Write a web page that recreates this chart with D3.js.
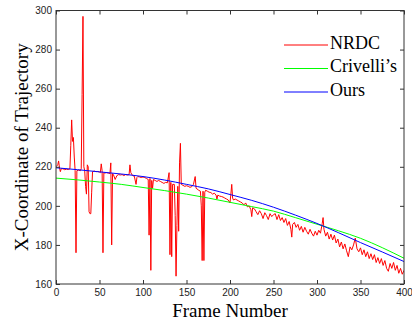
<!DOCTYPE html>
<html>
<head>
<meta charset="utf-8">
<script src="https://cdn.jsdelivr.net/npm/d3@7"></script>
<style>
  body { margin: 0; background: #fff; }
</style>
</head>
<body>
<div id="chart"></div>
<script>
// Reference curves at every 25 frames.
const smoothFrames = [0, 25, 50, 75, 100, 125, 150, 175, 200, 225, 250, 275, 300, 325, 350, 375, 400];
const crivelli = [214.2, 213.3, 212.2, 211.0, 209.4, 207.8, 206.0, 204.0, 201.8, 199.6, 197.3, 194.0, 190.6, 187.2, 183.4, 178.6, 173.2];
const ours = [219.5, 218.5, 217.4, 216.3, 215.0, 213.2, 211.0, 208.7, 205.8, 202.8, 199.3, 195.3, 191.0, 186.2, 181.2, 176.4, 171.5];

// NRDC track, noisy as [frame, value].
const nrdc = [
  [0, 220], [2, 221], [3, 223], [4, 219.5], [5, 217.5], [6, 219], [8, 219], [10, 218.5], [12, 218.8], [14, 218.6],
  [16, 219], [17, 231], [18, 244], [19, 233], [20, 235], [21, 225], [22, 218], [23, 176], [24, 218], [26, 218.3],
  [28, 218], [29, 219], [30, 257], [31, 297], [32, 220], [33, 218], [34, 210], [35, 206], [36, 221], [37, 220],
  [38, 197], [39, 196], [40, 196], [41, 207], [42, 217.5], [44, 217.8], [46, 217.5], [48, 217.6], [50, 217.3],
  [51, 217], [52, 221.5], [53, 218], [54, 176], [55, 217], [56, 216.8], [58, 217], [60, 216.8], [62, 216.5],
  [63, 222], [64, 180], [65, 216.5], [66, 216], [68, 213.5], [70, 215.5], [72, 216], [74, 215.8], [76, 216],
  [78, 215.5], [80, 216], [82, 215.8], [84, 216], [85, 221], [86, 217], [88, 215.5], [90, 215.2], [92, 211],
  [93, 214.5], [94, 215], [96, 214.8], [98, 214.5], [100, 214.8],
  [102, 214.5], [104, 214], [106, 213.5], [107, 185], [108, 214], [109, 167], [110, 213], [111, 209], [112, 213.5],
  [114, 213], [116, 212.5], [118, 213], [120, 212.5], [122, 212], [124, 211.5], [126, 212], [128, 211.8],
  [130, 217], [131, 175], [132, 212], [133, 174], [134, 211], [136, 211], [137, 195], [138, 164], [139, 190],
  [140, 210], [141, 187], [142, 222], [143, 232], [144, 211], [146, 210.5], [148, 210], [150, 210.3],
  [152, 210], [154, 209.5], [156, 209.8], [158, 211], [160, 215], [161, 209], [162, 208.7], [164, 208],
  [166, 207.5], [167, 200], [168, 172], [169, 207.5], [170, 172], [171, 207], [172, 208], [174, 207.5],
  [176, 207], [178, 206.8], [180, 206], [182, 206.5], [184, 205.5], [185, 203.5], [186, 205.5], [188, 205],
  [190, 204.8], [192, 204.5], [194, 204], [196, 203.5], [198, 203], [200, 201.5], [201, 206], [202, 211],
  [203, 204], [204, 203], [206, 203.5],
  [208, 203], [210, 202.5], [212, 202], [214, 201.5], [216, 200.5], [218, 201.5], [220, 199.5], [222, 200],
  [224, 198], [225, 194.5], [226, 199], [228, 198.5], [230, 197], [232, 195.5], [234, 197.5], [236, 196],
  [238, 193.5], [240, 196.5], [242, 195], [244, 193], [246, 196], [248, 194.5], [250, 195.5],
  [252, 196], [254, 193], [256, 195.5], [258, 192.5], [260, 194], [262, 191.5], [264, 193.5], [266, 190],
  [268, 192], [270, 188], [271, 184], [272, 190.5], [274, 191.5], [276, 189], [278, 190.5], [280, 187.5],
  [282, 189.5], [284, 186.5], [286, 189], [288, 187], [290, 185.5], [292, 188], [294, 186], [296, 184.5],
  [298, 187], [300, 185], [302, 187.5], [304, 186], [306, 191], [307, 194], [308, 188], [310, 184.5],
  [312, 186.5], [314, 183], [316, 185.5], [318, 182.5], [320, 185],
  [322, 181], [324, 183], [326, 179], [328, 181.5], [330, 178], [332, 180.5], [334, 177], [336, 174],
  [338, 179], [340, 177.5], [342, 180], [344, 183.5], [346, 178], [348, 176.5], [350, 178.5], [352, 175],
  [354, 177.5], [356, 174], [358, 176.5], [360, 173], [362, 175.5], [364, 172.5], [366, 175], [368, 171],
  [370, 173.5], [372, 170.5], [374, 173], [376, 169.5], [378, 172], [380, 168], [382, 166.5], [384, 170.5],
  [386, 168], [388, 171], [390, 167], [392, 169.5], [394, 165.5], [396, 168], [398, 165], [400, 167]
];

const xTicks = [0, 50, 100, 150, 200, 250, 300, 350, 400];
const yTicks = [160, 180, 200, 220, 240, 260, 280, 300];
const legendNames = ["NRDC", "Crivelli\u2019s", "Ours"];
const legendColors = ["#ff0000", "#00ff00", "#0000ff"];

const width = 412;
const height = 322;
const margin = { top: 10.5, right: 8, bottom: 38, left: 56 };
const plotW = width - margin.left - margin.right;
const plotH = height - margin.top - margin.bottom;

const svg = d3.select("#chart")
  .append("svg")
  .attr("width", width)
  .attr("height", height);

const g = svg.append("g")
  .attr("transform", `translate(${margin.left},${margin.top})`);

const x = d3.scaleLinear().domain([0, 400]).range([0, plotW]);
const y = d3.scaleLinear().domain([160, 300]).range([plotH, 0]);

// Clip the data lines to the axes box.
svg.append("defs").append("clipPath")
  .attr("id", "clip")
  .append("rect")
  .attr("width", plotW)
  .attr("height", plotH);

const lines = g.append("g").attr("clip-path", "url(#clip)");

const line = d3.line()
  .x(d => x(d[0]))
  .y(d => y(d[1]));

// NRDC first, so the smooth curves sit on top of it.
lines.append("path")
  .datum(nrdc)
  .attr("fill", "none")
  .attr("stroke", legendColors[0])
  .attr("stroke-width", 1)
  .attr("d", line);

const smoothLine = d3.line()
  .x(d => x(d[0]))
  .y(d => y(d[1]))
  .curve(d3.curveMonotoneX);

lines.append("path")
  .datum(smoothFrames.map((f, i) => [f, crivelli[i]]))
  .attr("fill", "none")
  .attr("stroke", legendColors[1])
  .attr("stroke-width", 1)
  .attr("d", smoothLine);

lines.append("path")
  .datum(smoothFrames.map((f, i) => [f, ours[i]]))
  .attr("fill", "none")
  .attr("stroke", legendColors[2])
  .attr("stroke-width", 1)
  .attr("d", smoothLine);

// MATLAB style box with inward ticks on all four sides.
const tickLen = 4;
const axisColor = "#333";

const styleAxis = sel => {
  sel.select(".domain").remove();
  sel.selectAll(".tick line").attr("stroke", axisColor);
  sel.selectAll(".tick text")
    .attr("fill", "#222")
    .attr("font-family", "Liberation Sans, Arial, sans-serif")
    .attr("font-size", "10px");
};

g.append("g")
  .attr("transform", `translate(0,${plotH})`)
  .call(d3.axisBottom(x).tickValues(xTicks).tickSizeInner(-tickLen).tickSizeOuter(0).tickPadding(5))
  .call(styleAxis);

g.append("g")
  .call(d3.axisTop(x).tickValues(xTicks).tickSizeInner(-tickLen).tickSizeOuter(0).tickFormat(""))
  .call(styleAxis);

g.append("g")
  .call(d3.axisLeft(y).tickValues(yTicks).tickSizeInner(-tickLen).tickSizeOuter(0).tickPadding(4))
  .call(styleAxis);

g.append("g")
  .attr("transform", `translate(${plotW},0)`)
  .call(d3.axisRight(y).tickValues(yTicks).tickSizeInner(-tickLen).tickSizeOuter(0).tickFormat(""))
  .call(styleAxis);

g.append("rect")
  .attr("width", plotW)
  .attr("height", plotH)
  .attr("fill", "none")
  .attr("stroke", axisColor)
  .attr("stroke-width", 1);

// Axis titles in a serif face.
svg.append("text")
  .attr("x", margin.left + plotW / 2)
  .attr("y", 317)
  .attr("text-anchor", "middle")
  .attr("font-family", "Liberation Serif, Times New Roman, serif")
  .attr("font-size", "19px")
  .attr("fill", "#000")
  .text("Frame Number");

svg.append("text")
  .attr("transform", `translate(28,${margin.top + plotH / 2}) rotate(-90)`)
  .attr("text-anchor", "middle")
  .attr("font-family", "Liberation Serif, Times New Roman, serif")
  .attr("font-size", "19px")
  .attr("fill", "#000")
  .text("X-Coordinate of Trajectory");

// Legend, no frame.
const legend = svg.append("g").attr("transform", "translate(284,45)");
legendNames.forEach((name, i) => {
  const row = legend.append("g").attr("transform", `translate(0,${i * 23.5})`);
  row.append("line")
    .attr("x1", 0).attr("x2", 44)
    .attr("y1", 0).attr("y2", 0)
    .attr("stroke", legendColors[i])
    .attr("stroke-width", 1);
  row.append("text")
    .attr("x", 46)
    .attr("y", 3.5)
    .attr("font-family", "Liberation Serif, Times New Roman, serif")
    .attr("font-size", "18px")
    .attr("fill", "#000")
    .text(name);
});
</script>
</body>
</html>
